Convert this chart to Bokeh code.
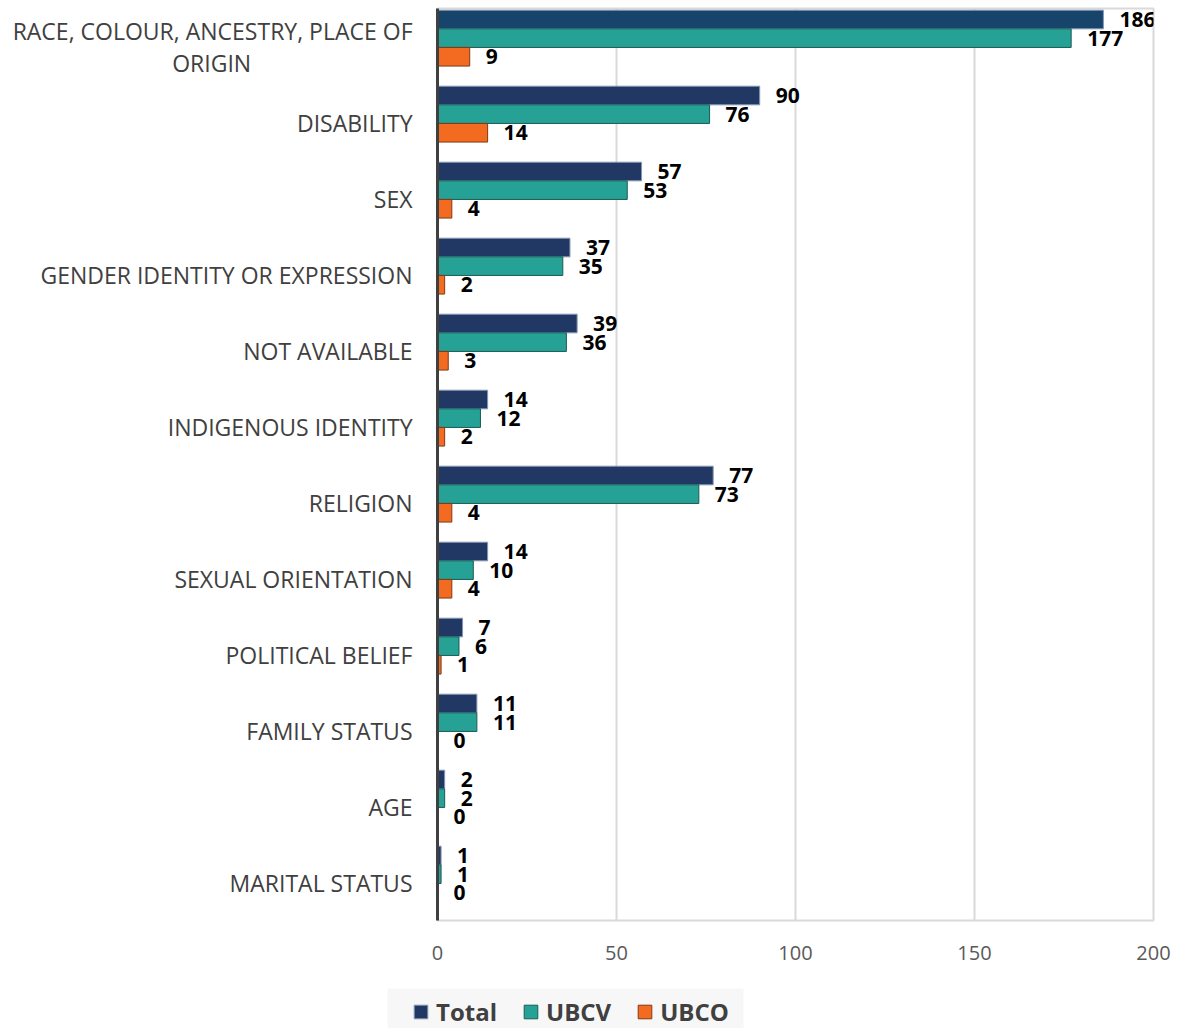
from bokeh.plotting import figure
from bokeh.layouts import column, row
from bokeh.models import ColumnDataSource, FactorRange, Legend, LegendItem, Range1d
from bokeh.transform import dodge
from bokeh.core.properties import value
from bokeh.embed import file_html
from bokeh.resources import INLINE

NB = "\u00a0"
categories = [
    "RACE, COLOUR, ANCESTRY, PLACE OF\nORIGIN" + NB * 27,
    "DISABILITY",
    "SEX",
    "GENDER IDENTITY OR EXPRESSION",
    "NOT AVAILABLE",
    "INDIGENOUS IDENTITY",
    "RELIGION",
    "SEXUAL ORIENTATION",
    "POLITICAL BELIEF",
    "FAMILY STATUS",
    "AGE",
    "MARITAL STATUS",
]
total = [186, 90, 57, 37, 39, 14, 77, 14, 7, 11, 2, 1]
ubcv = [177, 76, 53, 35, 36, 12, 73, 10, 6, 11, 2, 1]
ubco = [9, 14, 4, 2, 3, 2, 4, 4, 1, 0, 0, 0]
series_names = ["Total", "UBCV", "UBCO"]
series_cols = ["total", "ubcv", "ubco"]
x_ticks = [0, 50, 100, 150, 200]

FONT = "Open Sans"
total_colors = ["#16446b"] + ["#213864"] * (len(categories) - 1)
styles = {
    "Total": dict(fill_color="#213864", line_color="#8497b0"),
    "UBCV": dict(fill_color="#26a196", line_color="#1a5c55"),
    "UBCO": dict(fill_color="#f26b21", line_color="#7f3b13"),
}

src = ColumnDataSource(dict(
    cat=categories,
    total=total, ubcv=ubcv, ubco=ubco,
    total_lbl=[str(v) for v in total],
    ubcv_lbl=[str(v) for v in ubcv],
    ubco_lbl=[str(v) for v in ubco],
    total_color=total_colors,
))

p = figure(
    width=1181, height=988,
    y_range=FactorRange(factors=categories[::-1], range_padding=0),
    x_range=(0, 200),
    output_backend="svg", toolbar_location=None,
    min_border_left=437, min_border_right=28, min_border_top=8, min_border_bottom=68,
)
p.outline_line_color = "#d9d9d9"
p.outline_line_width = 2
p.background_fill_color = "white"
p.border_fill_color = "white"

h = 0.245
off_t, off_v, off_o = 0.355, 0.11, -0.135
p.hbar(y=dodge("cat", off_t, range=p.y_range), right="total", left=0, height=h,
       source=src, fill_color="total_color", line_color=styles["Total"]["line_color"], line_width=1)
p.hbar(y=dodge("cat", off_v, range=p.y_range), right="ubcv", left=0, height=h,
       source=src, line_width=1, **styles["UBCV"])
p.hbar(y=dodge("cat", off_o, range=p.y_range), right="ubco", left=0, height=h,
       source=src, line_width=1, **styles["UBCO"])

for col, off in (("total", off_t), ("ubcv", off_v), ("ubco", off_o)):
    p.text(x=col, y=dodge("cat", off, range=p.y_range), text=col + "_lbl", source=src,
           x_offset=16, text_baseline="middle", text_align="left",
           text_font=value(FONT), text_font_style="bold", text_font_size="21px",
           text_color="black")

# axes
p.xaxis.ticker = x_ticks
p.xaxis.axis_line_color = None
p.xaxis.major_tick_line_color = None
p.xaxis.minor_tick_line_color = None
p.xaxis.major_label_text_font = FONT
p.xaxis.major_label_text_font_size = "20px"
p.xaxis.major_label_text_color = "#595959"
p.xaxis.major_label_standoff = 19

p.yaxis.axis_line_color = "#404040"
p.yaxis.axis_line_width = 3
p.yaxis.major_tick_line_color = None
p.yaxis.minor_tick_line_color = None
p.yaxis.major_label_text_font = FONT
p.yaxis.major_label_text_font_size = "23px"
p.yaxis.major_label_text_color = "#404040"
p.yaxis.major_label_text_line_height = 1.0
p.yaxis.major_label_standoff = 19

p.xgrid.grid_line_color = "#d9d9d9"
p.xgrid.grid_line_width = 2
p.ygrid.grid_line_color = None

# legend strip (own small figure, its frame is the grey legend box)
lf = figure(
    width=1181, height=40, x_axis_type=None, y_axis_type=None,
    x_range=Range1d(1000, 1001), y_range=Range1d(1000, 1001),
    output_backend="svg", toolbar_location=None,
    min_border_left=387, min_border_right=438, min_border_top=0, min_border_bottom=0,
)
lf.outline_line_color = None
lf.background_fill_color = "#f7f7f7"
lf.border_fill_color = "white"
lf.grid.visible = False
items = []
for name, col in zip(series_names, series_cols):
    # same data as the chart, outside this strip's visible range: only the legend swatch shows
    r = lf.hbar(y=col, right=col, left=0, height=1, source=src, line_width=1, **styles[name])
    items.append(LegendItem(label=name, renderers=[r]))

legend = Legend(
    items=items,
    orientation="horizontal",
    location=(25, 0),
    label_text_font=FONT, label_text_font_style="bold", label_text_font_size="24px",
    label_text_color="#404040",
    glyph_width=17, glyph_height=17, label_standoff=7, spacing=25,
    padding=0, margin=0,
    background_fill_alpha=0, border_line_color=None,
)
lf.add_layout(legend, "center")

layout = column(p, row(lf, spacing=0), spacing=0)
open("out.html", "w").write(file_html(layout, INLINE))
